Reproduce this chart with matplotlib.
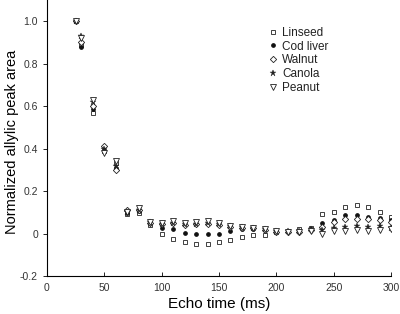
import matplotlib.pyplot as plt

plt.rcParams['font.family'] = ['Liberation Sans', 'DejaVu Sans']

echo_ms = [25, 30, 40, 50, 60, 70, 80, 90, 100, 110, 120, 130, 140, 150, 160,
           170, 180, 190, 200, 210, 220, 230, 240, 250, 260, 270, 280, 290, 300]

linseed = [1.0, 0.89, 0.57, 0.39, 0.33, 0.09, 0.095, 0.04, 0.0, -0.025, -0.04,
           -0.05, -0.05, -0.04, -0.03, -0.014, -0.006, -0.005, 0.008, 0.01, 0.02,
           0.027, 0.093, 0.102, 0.127, 0.133, 0.125, 0.10, 0.08]
cod_liver = [1.0, 0.88, 0.585, 0.39, 0.31, 0.095, 0.105, 0.05, 0.025, 0.02, 0.002,
             0.0, 0.0, 0.0, 0.01, 0.02, 0.02, 0.015, 0.008, 0.01, 0.008,
             0.02, 0.05, 0.064, 0.085, 0.088, 0.08, 0.072, 0.066]
walnut = [1.0, 0.90, 0.60, 0.41, 0.30, 0.11, 0.11, 0.05, 0.045, 0.05, 0.04,
          0.045, 0.045, 0.04, 0.03, 0.025, 0.025, 0.015, 0.008, 0.008, 0.008,
          0.015, 0.033, 0.053, 0.069, 0.07, 0.07, 0.065, 0.056]
canola = [1.0, 0.93, 0.62, 0.40, 0.32, 0.10, 0.11, 0.055, 0.045, 0.05, 0.045,
          0.045, 0.05, 0.045, 0.035, 0.03, 0.025, 0.02, 0.01, 0.01, 0.01,
          0.02, 0.019, 0.027, 0.03, 0.036, 0.03, 0.035, 0.028]
peanut = [1.0, 0.92, 0.63, 0.38, 0.343, 0.10, 0.12, 0.055, 0.05, 0.06, 0.048,
          0.056, 0.058, 0.048, 0.037, 0.033, 0.028, 0.02, 0.01, 0.008, 0.005,
          0.01, 0.0, 0.01, 0.014, 0.015, 0.012, 0.015, 0.02]

fig = plt.figure(figsize=(4, 3.14), dpi=100)
ax = fig.add_axes([0.1175, 0.121, 0.86, 0.879])

ax.plot(echo_ms, linseed, 's', ms=3.2, mfc='white', mec='#222222', mew=0.6, label='Linseed')
ax.plot(echo_ms, cod_liver, 'o', ms=2.4, color='#111111', label='Cod liver')
ax.plot(echo_ms, walnut, 'D', ms=3.2, mfc='white', mec='#222222', mew=0.6, label='Walnut')
ax.plot(echo_ms, canola, '*', ms=5, color='#222222', mew=0.3, label='Canola')
ax.plot(echo_ms, peanut, 'v', ms=4, mfc='white', mec='#222222', mew=0.6, label='Peanut')

ax.set_xlim(0, 300)
ax.set_ylim(-0.2, 1.1)
ax.set_xticks([0, 50, 100, 150, 200, 250, 300])
ax.set_yticks([-0.2, 0, 0.2, 0.4, 0.6, 0.8, 1.0])
ax.set_yticklabels(['-0.2', '0', '0.2', '0.4', '0.6', '0.8', '1.0'])
ax.spines['top'].set_visible(False)
ax.spines['right'].set_visible(False)
ax.spines['left'].set_linewidth(0.8)
ax.spines['bottom'].set_linewidth(0.8)
ax.tick_params(axis='y', direction='out', length=3, labelsize=7.5, width=0.6,
               labelcolor='#333333')
ax.tick_params(axis='x', direction='in', length=3, labelsize=7.5, width=0.6,
               pad=5, labelcolor='#333333')
ax.set_xlabel('Echo time (ms)', fontsize=11, labelpad=3)
ax.set_ylabel('Normalized allylic peak area', fontsize=10.5)
ax.yaxis.set_label_coords(-0.08, 0.486)

ax.legend(loc='upper left', bbox_to_anchor=(0.625, 0.92), frameon=False,
          fontsize=8.5, handletextpad=0.3, labelspacing=0.15, handlelength=1.0,
          borderaxespad=0, labelcolor='#222222')

fig.savefig('out.png', dpi=100)
